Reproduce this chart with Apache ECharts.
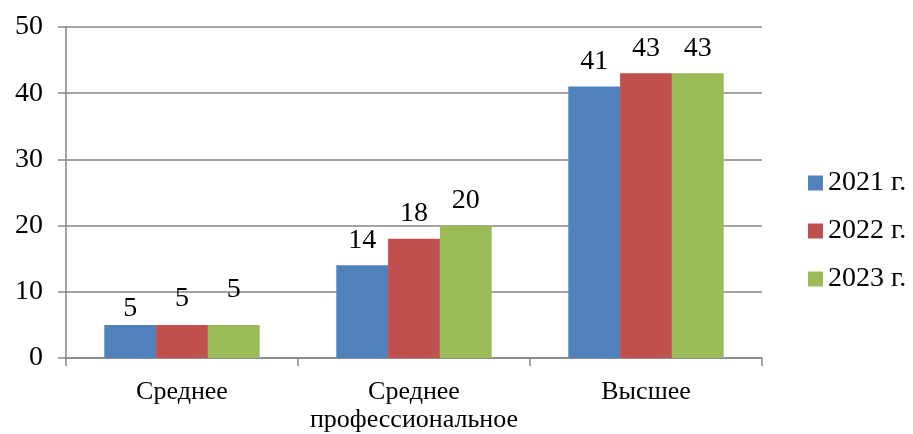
<!DOCTYPE html>
<html>
<head>
<meta charset="utf-8">
<script src="https://cdn.jsdelivr.net/npm/echarts@6/dist/echarts.min.js"></script>
<style>html,body{margin:0;padding:0;background:#fff}#c{width:913px;height:434px}</style>
</head>
<body>
<div id="c"></div>
<script>
const categories = ['Среднее', 'Среднее\nпрофессиональное', 'Высшее'];
const seriesNames = ['2021 г.', '2022 г.', '2023 г.'];
const values2021 = [5, 14, 41];
const values2022 = [5, 18, 43];
const values2023 = [5, 20, 43];
const yTicks = [0, 10, 20, 30, 40, 50];
const colors = ['#4F81BD', '#C0504D', '#9BBB59'];
const firstCatDist = [2, 12, 21];

const font = '"Liberation Serif", "Times New Roman", serif';
const allVals = [values2021, values2022, values2023];

const chart = echarts.init(document.getElementById('c'));
chart.setOption({
  animation: false,
  textStyle: { fontFamily: font },
  grid: { left: 66, right: 151, top: 27, bottom: 75 },
  legend: {
    orient: 'vertical', left: 803, top: 164,
    itemWidth: 15, itemHeight: 15, itemGap: 20,
    icon: 'rect',
    textStyle: { fontFamily: font, fontSize: 28, color: '#000' },
    data: seriesNames
  },
  xAxis: {
    type: 'category', data: categories,
    axisLine: { lineStyle: { color: '#868686', width: 1.5 } },
    axisTick: { show: true, length: 8, lineStyle: { color: '#868686', width: 1.5 } },
    axisLabel: { interval: 0, hideOverlap: false, fontFamily: font, fontSize: 26, color: '#000', margin: 20, lineHeight: 28 }
  },
  yAxis: {
    type: 'value', min: yTicks[0], max: yTicks[yTicks.length - 1], interval: 10,
    axisLine: { show: true, lineStyle: { color: '#868686', width: 1.5 } },
    axisTick: { show: true, length: 8, lineStyle: { color: '#868686', width: 1.5 } },
    splitLine: { lineStyle: { color: '#868686', width: 1.5 } },
    axisLabel: { fontFamily: font, fontSize: 28, color: '#000', margin: 23 }
  },
  series: seriesNames.map((n, i) => ({
    name: n, type: 'bar',
    barGap: '0%', barCategoryGap: '33%',
    itemStyle: { color: colors[i] },
    label: { show: true, position: 'top', distance: 11, fontFamily: font, fontSize: 28, color: '#000' },
    data: allVals[i].map((v, j) => j === 0 ? { value: v, label: { distance: firstCatDist[i] } } : v)
  }))
});
</script>
</body>
</html>
